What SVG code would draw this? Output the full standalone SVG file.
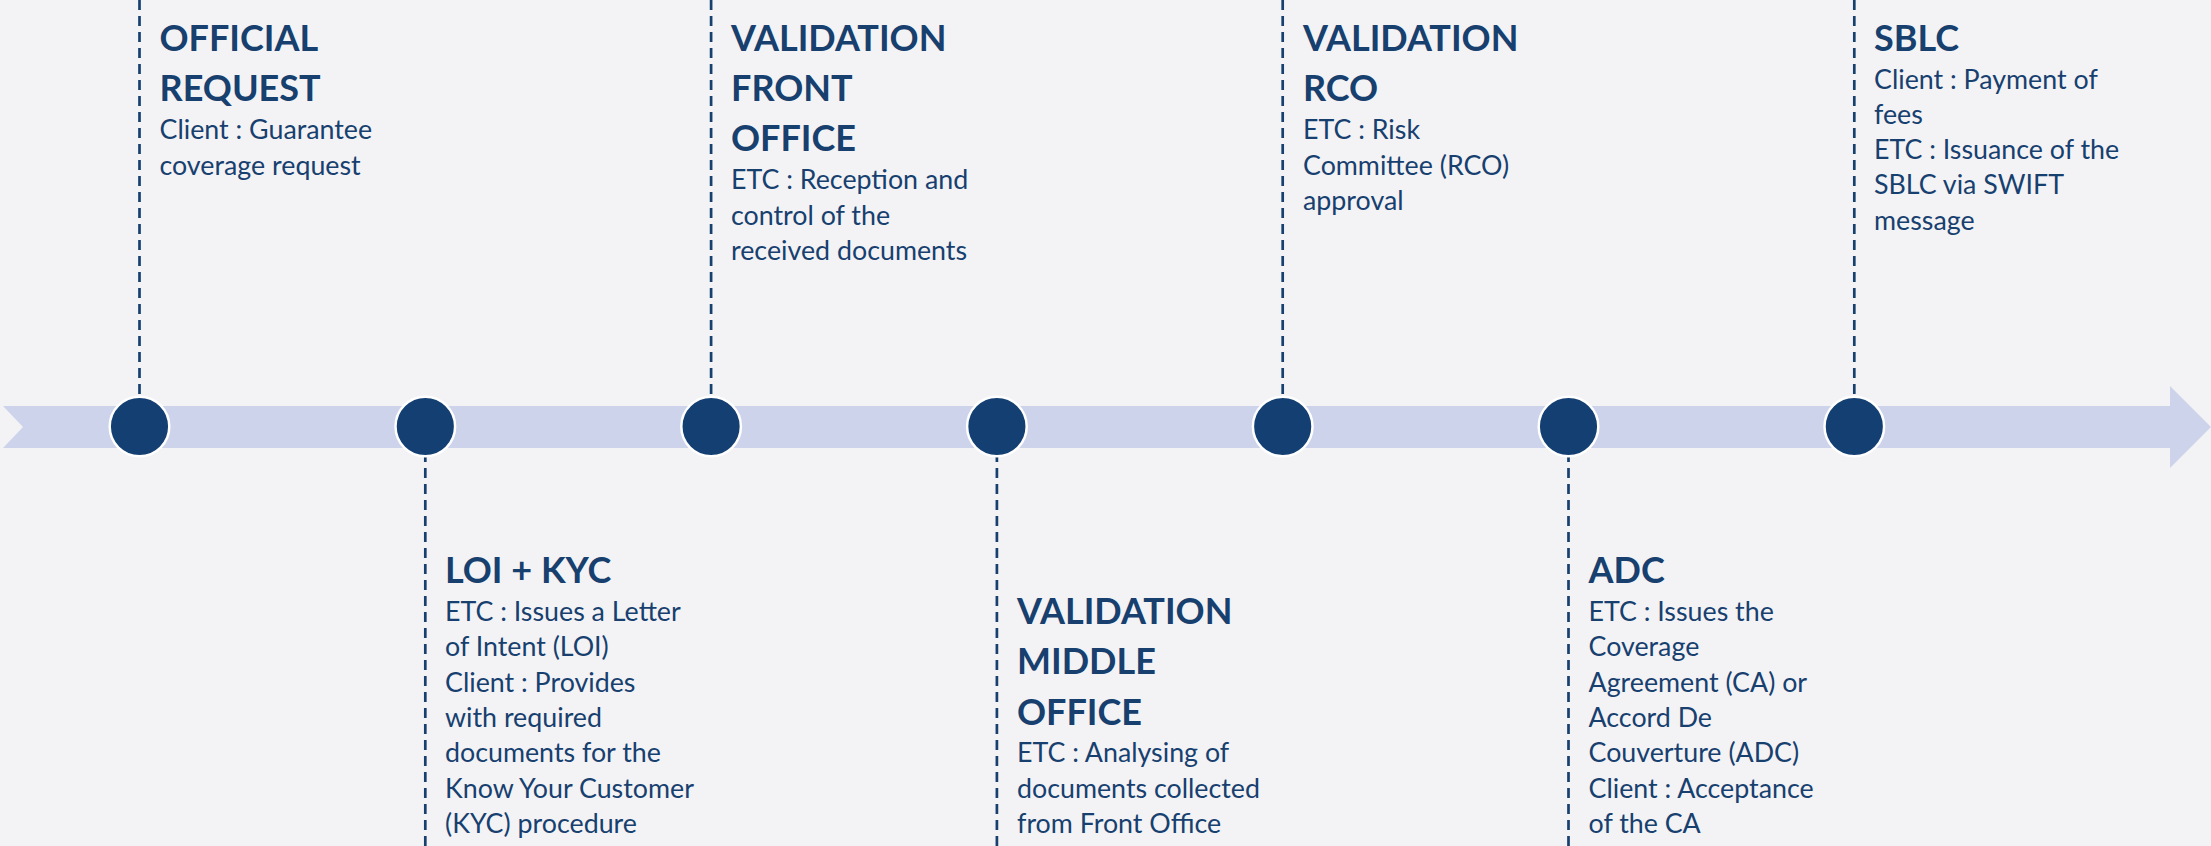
<svg xmlns="http://www.w3.org/2000/svg" width="2211" height="846" viewBox="0 0 2211 846">
<style>
.bg{fill:#F3F3F6}
.band{fill:#CDD3EA}
.dot{fill:#133F73;stroke:#FFFFFF;stroke-width:2.5}
.dash{stroke:#17406F;stroke-width:2.7;stroke-dasharray:10 6;fill:none}
.h{font-family:Lato,"Open Sans","Liberation Sans",sans-serif;font-weight:700;font-size:36px;fill:#17406F}
.b{font-family:Lato,"Open Sans","Liberation Sans",sans-serif;font-weight:400;font-size:26.8px;fill:#17406F}
</style>
<rect class="bg" x="0" y="0" width="2211" height="846"/>
<g id="timeline">
<polygon class="band" points="3,406 2170,406 2170,386 2211,427 2170,468 2170,448 3,448 23,427"/>
</g>
<g id="connectors">
<line class="dash" x1="139.5" y1="0" x2="139.5" y2="426"/>
<line class="dash" x1="425.3" y1="846" x2="425.3" y2="426"/>
<line class="dash" x1="711.1" y1="0" x2="711.1" y2="426"/>
<line class="dash" x1="996.9" y1="846" x2="996.9" y2="426"/>
<line class="dash" x1="1282.7" y1="0" x2="1282.7" y2="426"/>
<line class="dash" x1="1568.5" y1="846" x2="1568.5" y2="426"/>
<line class="dash" x1="1854.3" y1="0" x2="1854.3" y2="426"/>
</g>
<g id="step1">
<circle class="dot" cx="139.5" cy="426.5" r="29.8"/>
<text class="h"><tspan x="159.5" y="50.7">OFFICIAL</tspan><tspan x="159.5" y="101">REQUEST</tspan></text>
<text class="b"><tspan x="159.5" y="139.3">Client : Guarantee</tspan><tspan x="159.5" y="174.5">coverage request</tspan></text>
</g>
<g id="step2">
<circle class="dot" cx="425.3" cy="426.5" r="29.8"/>
<text class="h"><tspan x="445" y="583.3">LOI + KYC</tspan></text>
<text class="b"><tspan x="445" y="620.7">ETC : Issues a Letter</tspan><tspan x="445" y="656.1">of Intent (LOI)</tspan><tspan x="445" y="691.5">Client : Provides</tspan><tspan x="445" y="726.9">with required</tspan><tspan x="445" y="762.3">documents for the</tspan><tspan x="445" y="797.7">Know Your Customer</tspan><tspan x="445" y="833.1">(KYC) procedure</tspan></text>
</g>
<g id="step3">
<circle class="dot" cx="711.1" cy="426.5" r="29.8"/>
<text class="h"><tspan x="731" y="50.7">VALIDATION</tspan><tspan x="731" y="101">FRONT</tspan><tspan x="731" y="151.3">OFFICE</tspan></text>
<text class="b"><tspan x="731" y="189.3">ETC : Reception and</tspan><tspan x="731" y="224.5">control of the</tspan><tspan x="731" y="259.7">received documents</tspan></text>
</g>
<g id="step4">
<circle class="dot" cx="996.9" cy="426.5" r="29.8"/>
<text class="h"><tspan x="1017" y="623.9">VALIDATION</tspan><tspan x="1017" y="674.2">MIDDLE</tspan><tspan x="1017" y="724.5">OFFICE</tspan></text>
<text class="b"><tspan x="1017" y="762.3">ETC : Analysing of</tspan><tspan x="1017" y="797.7">documents collected</tspan><tspan x="1017" y="833.1">from Front Office</tspan></text>
</g>
<g id="step5">
<circle class="dot" cx="1282.7" cy="426.5" r="29.8"/>
<text class="h"><tspan x="1303" y="50.7">VALIDATION</tspan><tspan x="1303" y="101">RCO</tspan></text>
<text class="b"><tspan x="1303" y="139.3">ETC : Risk</tspan><tspan x="1303" y="174.5">Committee (RCO)</tspan><tspan x="1303" y="209.7">approval</tspan></text>
</g>
<g id="step6">
<circle class="dot" cx="1568.5" cy="426.5" r="29.8"/>
<text class="h"><tspan x="1588.5" y="583.3">ADC</tspan></text>
<text class="b"><tspan x="1588.5" y="620.7">ETC : Issues the</tspan><tspan x="1588.5" y="656.1">Coverage</tspan><tspan x="1588.5" y="691.5">Agreement (CA) or</tspan><tspan x="1588.5" y="726.9">Accord De</tspan><tspan x="1588.5" y="762.3">Couverture (ADC)</tspan><tspan x="1588.5" y="797.7">Client : Acceptance</tspan><tspan x="1588.5" y="833.1">of the CA</tspan></text>
</g>
<g id="step7">
<circle class="dot" cx="1854.3" cy="426.5" r="29.8"/>
<text class="h"><tspan x="1874" y="50.7">SBLC</tspan></text>
<text class="b"><tspan x="1874" y="88.7">Client : Payment of</tspan><tspan x="1874" y="123.9">fees</tspan><tspan x="1874" y="159.1">ETC : Issuance of the</tspan><tspan x="1874" y="194.3">SBLC via SWIFT</tspan><tspan x="1874" y="229.5">message</tspan></text>
</g>
</svg>
